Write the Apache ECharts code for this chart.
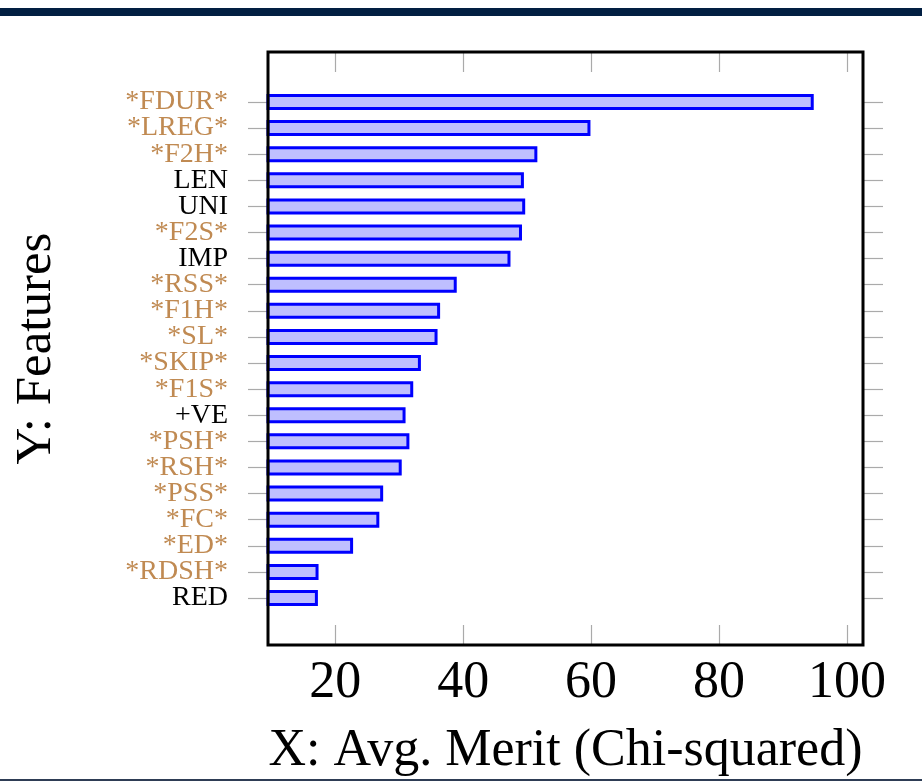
<!DOCTYPE html>
<html>
<head>
<meta charset="utf-8">
<script src="https://cdn.jsdelivr.net/npm/echarts@6/dist/echarts.min.js"></script>
<style>
html,body{margin:0;padding:0;background:#fff;}
#chart{width:922px;height:782px;}
</style>
</head>
<body>
<div id="chart"></div>
<script>
// Data (top to bottom)
const features = ['*FDUR*','*LREG*','*F2H*','LEN','UNI','*F2S*','IMP','*RSS*','*F1H*','*SL*','*SKIP*','*F1S*','+VE','*PSH*','*RSH*','*PSS*','*FC*','*ED*','*RDSH*','RED'];
const merit = [94.8, 59.9, 51.6, 49.5, 49.7, 49.2, 47.4, 39.0, 36.4, 36.0, 33.4, 32.2, 31.0, 31.6, 30.4, 27.5, 26.9, 22.8, 17.4, 17.3];
const xTicks = [20, 40, 60, 80, 100];
const xMin = 9.5, xMax = 102.5;

const brown = '#c08a52';
const serif = '"Liberation Serif", "DejaVu Serif", serif';

const catData = features.map(f => ({
  value: f,
  textStyle: { color: f.startsWith('*') ? brown : '#000' }
}));

const chart = echarts.init(document.getElementById('chart'), null, {renderer: 'canvas'});
const tickStyle = { color: '#aaaaaa', width: 1.2 };

chart.setOption({
  animation: false,
  backgroundColor: '#fff',
  graphic: [
    { type: 'rect', left: 0, top: 8, shape: { width: 922, height: 8 }, style: { fill: '#021f42' }, z: 10 },
    { type: 'rect', left: 0, top: 779, shape: { width: 922, height: 2 }, style: { fill: '#2e3d55' }, z: 10 }
  ],
  grid: [
    { left: 268, right: 59, top: 52, bottom: 134, show: true, borderColor: '#000', borderWidth: 3, backgroundColor: 'transparent', z: 5 },
    { left: 268, right: 59, top: 88.95, height: 522.1 }
  ],
  xAxis: [
    {
      gridIndex: 0, type: 'value', min: xMin, max: xMax, position: 'bottom',
      axisLine: { show: false },
      splitLine: { show: false },
      axisTick: { show: true, inside: true, length: 20, lineStyle: tickStyle, customValues: xTicks },
      axisLabel: { customValues: xTicks, fontFamily: serif, fontSize: 52, color: '#000', margin: 12 },
      name: 'X: Avg. Merit (Chi-squared)', nameLocation: 'middle', nameGap: 80,
      nameTextStyle: { fontFamily: serif, fontSize: 52, color: '#000' }
    },
    {
      gridIndex: 0, type: 'value', min: xMin, max: xMax, position: 'top',
      axisLine: { show: false },
      splitLine: { show: false },
      axisTick: { show: true, inside: true, length: 20, lineStyle: tickStyle, customValues: xTicks },
      axisLabel: { show: false }
    },
    {
      gridIndex: 1, type: 'value', min: xMin, max: xMax, show: false, splitLine: { show: false }
    }
  ],
  yAxis: [
    {
      gridIndex: 0, type: 'value', min: 0, max: 1,
      axisLine: { show: false }, axisTick: { show: false }, axisLabel: { show: false }, splitLine: { show: false },
      name: 'Y: Features', nameLocation: 'middle', nameRotate: 90, nameGap: 206,
      nameTextStyle: { fontFamily: serif, fontSize: 51, color: '#000' }
    },
    {
      gridIndex: 1, type: 'category', inverse: true, data: catData, position: 'left',
      axisLine: { show: false },
      axisTick: { show: true, alignWithLabel: true, interval: 0, length: 20, lineStyle: tickStyle },
      axisLabel: { interval: 0, fontFamily: serif, fontSize: 28, margin: 40 },
      splitLine: { show: false }
    },
    {
      gridIndex: 1, type: 'category', inverse: true, data: features, position: 'right',
      axisLine: { show: false },
      axisTick: { show: true, alignWithLabel: true, interval: 0, length: 20, lineStyle: tickStyle },
      axisLabel: { show: false },
      splitLine: { show: false }
    }
  ],
  series: [
    {
      type: 'bar', xAxisIndex: 2, yAxisIndex: 1, data: merit,
      barWidth: 16, barMaxWidth: 40,
      itemStyle: { color: '#bfbfff', borderColor: '#0000ff', borderWidth: 3 },
      z: 3
    }
  ]
});
</script>
</body>
</html>
